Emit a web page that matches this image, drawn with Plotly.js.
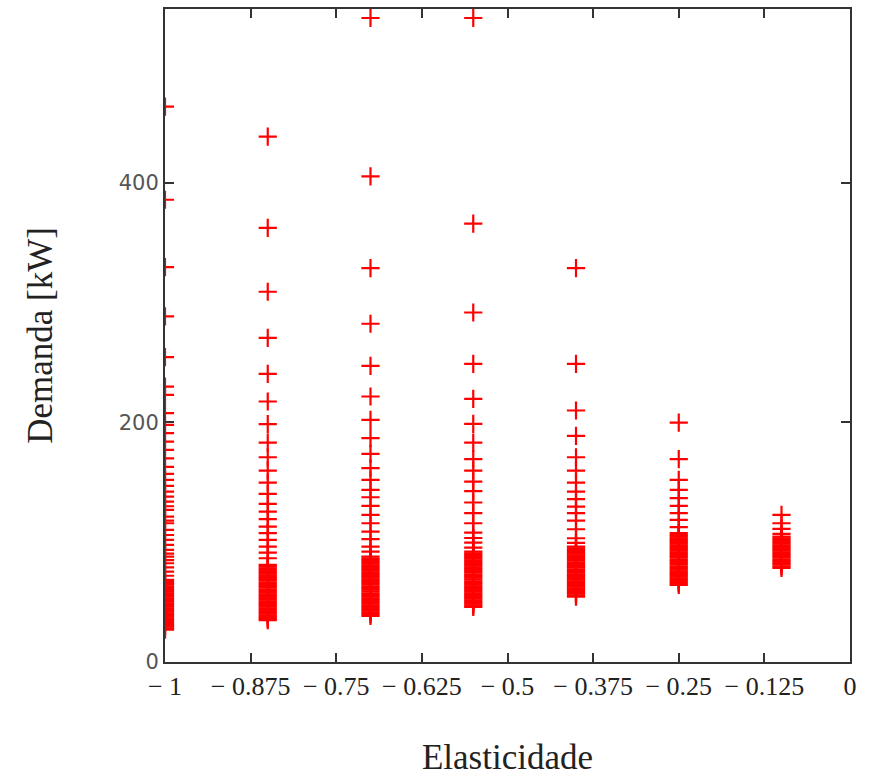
<!DOCTYPE html>
<html>
<head>
<meta charset="utf-8">
<script src="https://cdn.plot.ly/plotly-3.0.1.min.js"></script>
<style>
  html, body { margin: 0; padding: 0; background: #ffffff; }
  #chart { width: 874px; height: 777px; }
</style>
</head>
<body>
<div id="chart"></div>
<script>
// Elasticity values (x positions of the point columns)
var elasticities = [-1, -0.85, -0.7, -0.55, -0.4, -0.25, -0.1];

// Demand values [kW] for each elasticity
var demand_e100 = [463.6, 385.8, 329.6, 288.4, 254.4, 229.9, 223, 207.7, 197.9, 191, 184, 177, 170, 162.8, 157, 152, 147, 142.2, 138, 133.9, 130, 126.9, 121.3, 118, 115.8, 110.2, 106, 101.9, 97.7, 93.5, 90.5, 87.9, 85, 82.4, 79, 75.4, 72,
  68.5, 67.2, 65.8, 64.5, 63, 61.7, 60.1, 58.8, 57.4, 56, 54.5, 53.1, 51.8, 50.3, 49, 47.6, 46.1, 44.8, 43.3, 42, 40.6, 39.1, 37.8, 36.4, 35, 33.5, 32.1, 30.8, 29.4, 28, 27];
var demand_e085 = [438.4, 362.4, 309.0, 270.6, 240.5, 217.4, 198.5, 183.1, 170.9, 159.7, 149.7, 140.3, 131.9, 125.5, 119.2, 113.0, 107.5, 101.9, 96.3, 91.3, 86.6,
  81, 79.6, 78.1, 76.7, 75.2, 73.8, 72.3, 70.9, 69.4, 68, 66.5, 65.1, 63.6, 62.2, 60.7, 59.3, 57.8, 56.4, 54.9, 53.5, 52, 50.6, 49.1, 47.7, 46.2, 44.8, 43.3, 41.9, 40.4, 39, 37.5, 36.2, 35];
var demand_e070 = [537.5, 405.3, 328.8, 282.3, 247.2, 221.6, 202.1, 186.8, 173.7, 161.8, 152, 143.6, 137.5, 130.3, 122.8, 115.8, 108.8, 102.5, 96.3, 92.1,
  87.9, 86.4, 85, 83.5, 82.1, 80.6, 79.2, 77.7, 76.3, 74.8, 73.4, 71.9, 70.5, 69, 67.6, 66.1, 64.7, 63.2, 61.8, 60.3, 58.9, 57.4, 56, 54.5, 53.1, 51.6, 50.2, 48.7, 47.3, 45.8, 44.4, 42.9, 41.5, 40, 38.4];
var demand_e055 = [537.5, 365.8, 291.7, 248.8, 219.6, 198.7, 183.1, 169.3, 159.8, 150.6, 142.6, 133.1, 124.2, 115.8, 108, 103.5, 99.6, 95.5,
  92.1, 90.6, 89.2, 87.7, 86.3, 84.8, 83.4, 81.9, 80.5, 79, 77.6, 76.1, 74.7, 73.2, 71.8, 70.3, 68.9, 67.4, 66, 64.5, 63.1, 61.6, 60.2, 58.7, 57.3, 55.8, 54.4, 52.9, 51.5, 50, 48.6, 47.2, 46];
var demand_e040 = [328.8, 248.8, 209.9, 188.7, 170.9, 159.8, 149.7, 142.2, 135.9, 129.7, 124.2, 118, 110.8, 103.3, 99.5,
  96.3, 94.8, 93.4, 91.9, 90.5, 89, 87.6, 86.1, 84.7, 83.2, 81.8, 80.3, 78.9, 77.4, 76, 74.5, 73.1, 71.6, 70.2, 68.7, 67.3, 65.8, 64.4, 62.9, 61.5, 60, 58.6, 57.1, 55.7, 54.5];
var demand_e025 = [199.8, 169.3, 152, 143.6, 136.7, 130.3, 124.2, 118.6, 112.5,
  107.5, 106, 104.6, 103.1, 101.7, 100.2, 98.8, 97.3, 95.9, 94.4, 93, 91.5, 90.1, 88.6, 87.2, 85.7, 84.3, 82.8, 81.4, 79.9, 78.5, 77, 75.6, 74.1, 72.7, 71.2, 69.8, 68.3, 66.9, 65.5, 64.3];
var demand_e010 = [122.8, 115.8, 111.1, 106.9,
  104.6, 103.1, 101.7, 100.2, 98.8, 97.3, 95.9, 94.4, 93, 91.5, 90.1, 88.6, 87.2, 85.7, 84.3, 82.8, 81.4, 79.9, 78.5];

var demandSeries = [demand_e100, demand_e085, demand_e070, demand_e055, demand_e040, demand_e025, demand_e010];

// Tick values and labels
var xTickVals = [-1, -0.875, -0.75, -0.625, -0.5, -0.375, -0.25, -0.125, 0];
var xTickText = ["\u2212 1", "\u2212 0.875", "\u2212 0.75", "\u2212 0.625", "\u2212 0.5", "\u2212 0.375", "\u2212 0.25", "\u2212 0.125", "0"];
var yTickVals = [0, 200, 400];
var yTickText = ["0", "200", "400"];

var serif = 'Liberation Serif';

var traces = elasticities.map(function (e, i) {
  var ys = demandSeries[i];
  return {
    type: 'scatter',
    mode: 'markers',
    x: ys.map(function () { return e; }),
    y: ys,
    showlegend: false,
    hoverinfo: 'x+y',
    marker: {
      symbol: 'cross-thin',
      size: 13,
      color: '#ff0000',
      line: { color: '#ff0000', width: 2.2 }
    }
  };
});

var layout = {
  width: 874,
  height: 777,
  margin: { l: 165, r: 24, t: 9, b: 115 },
  paper_bgcolor: '#ffffff',
  plot_bgcolor: '#ffffff',
  showlegend: false,
  font: { family: serif },
  xaxis: {
    range: [-1, 0],
    tickmode: 'array',
    tickvals: xTickVals,
    ticktext: xTickText,
    ticks: 'inside',
    ticklen: 9,
    tickwidth: 2,
    tickcolor: '#333333',
    showline: true,
    linecolor: '#333333',
    linewidth: 2,
    mirror: 'ticks',
    showgrid: false,
    zeroline: false,
    tickfont: { family: serif, size: 26, color: '#222222' },
    title: {
      text: 'Elasticidade',
      font: { family: serif, size: 35, color: '#222222' },
      standoff: 48
    }
  },
  yaxis: {
    range: [0, 545],
    tickmode: 'array',
    tickvals: yTickVals,
    ticktext: yTickText,
    ticks: 'inside',
    ticklen: 9,
    tickwidth: 2,
    tickcolor: '#333333',
    showline: true,
    linecolor: '#333333',
    linewidth: 2,
    mirror: 'ticks',
    showgrid: false,
    zeroline: false,
    tickfont: { family: 'DejaVu Sans', size: 21, color: '#555555' },
    title: {
      text: 'Demanda [kW]',
      font: { family: serif, size: 35, color: '#222222' },
      standoff: 55
    }
  }
};

Plotly.newPlot('chart', traces, layout, { displayModeBar: false, staticPlot: true });
</script>
</body>
</html>
